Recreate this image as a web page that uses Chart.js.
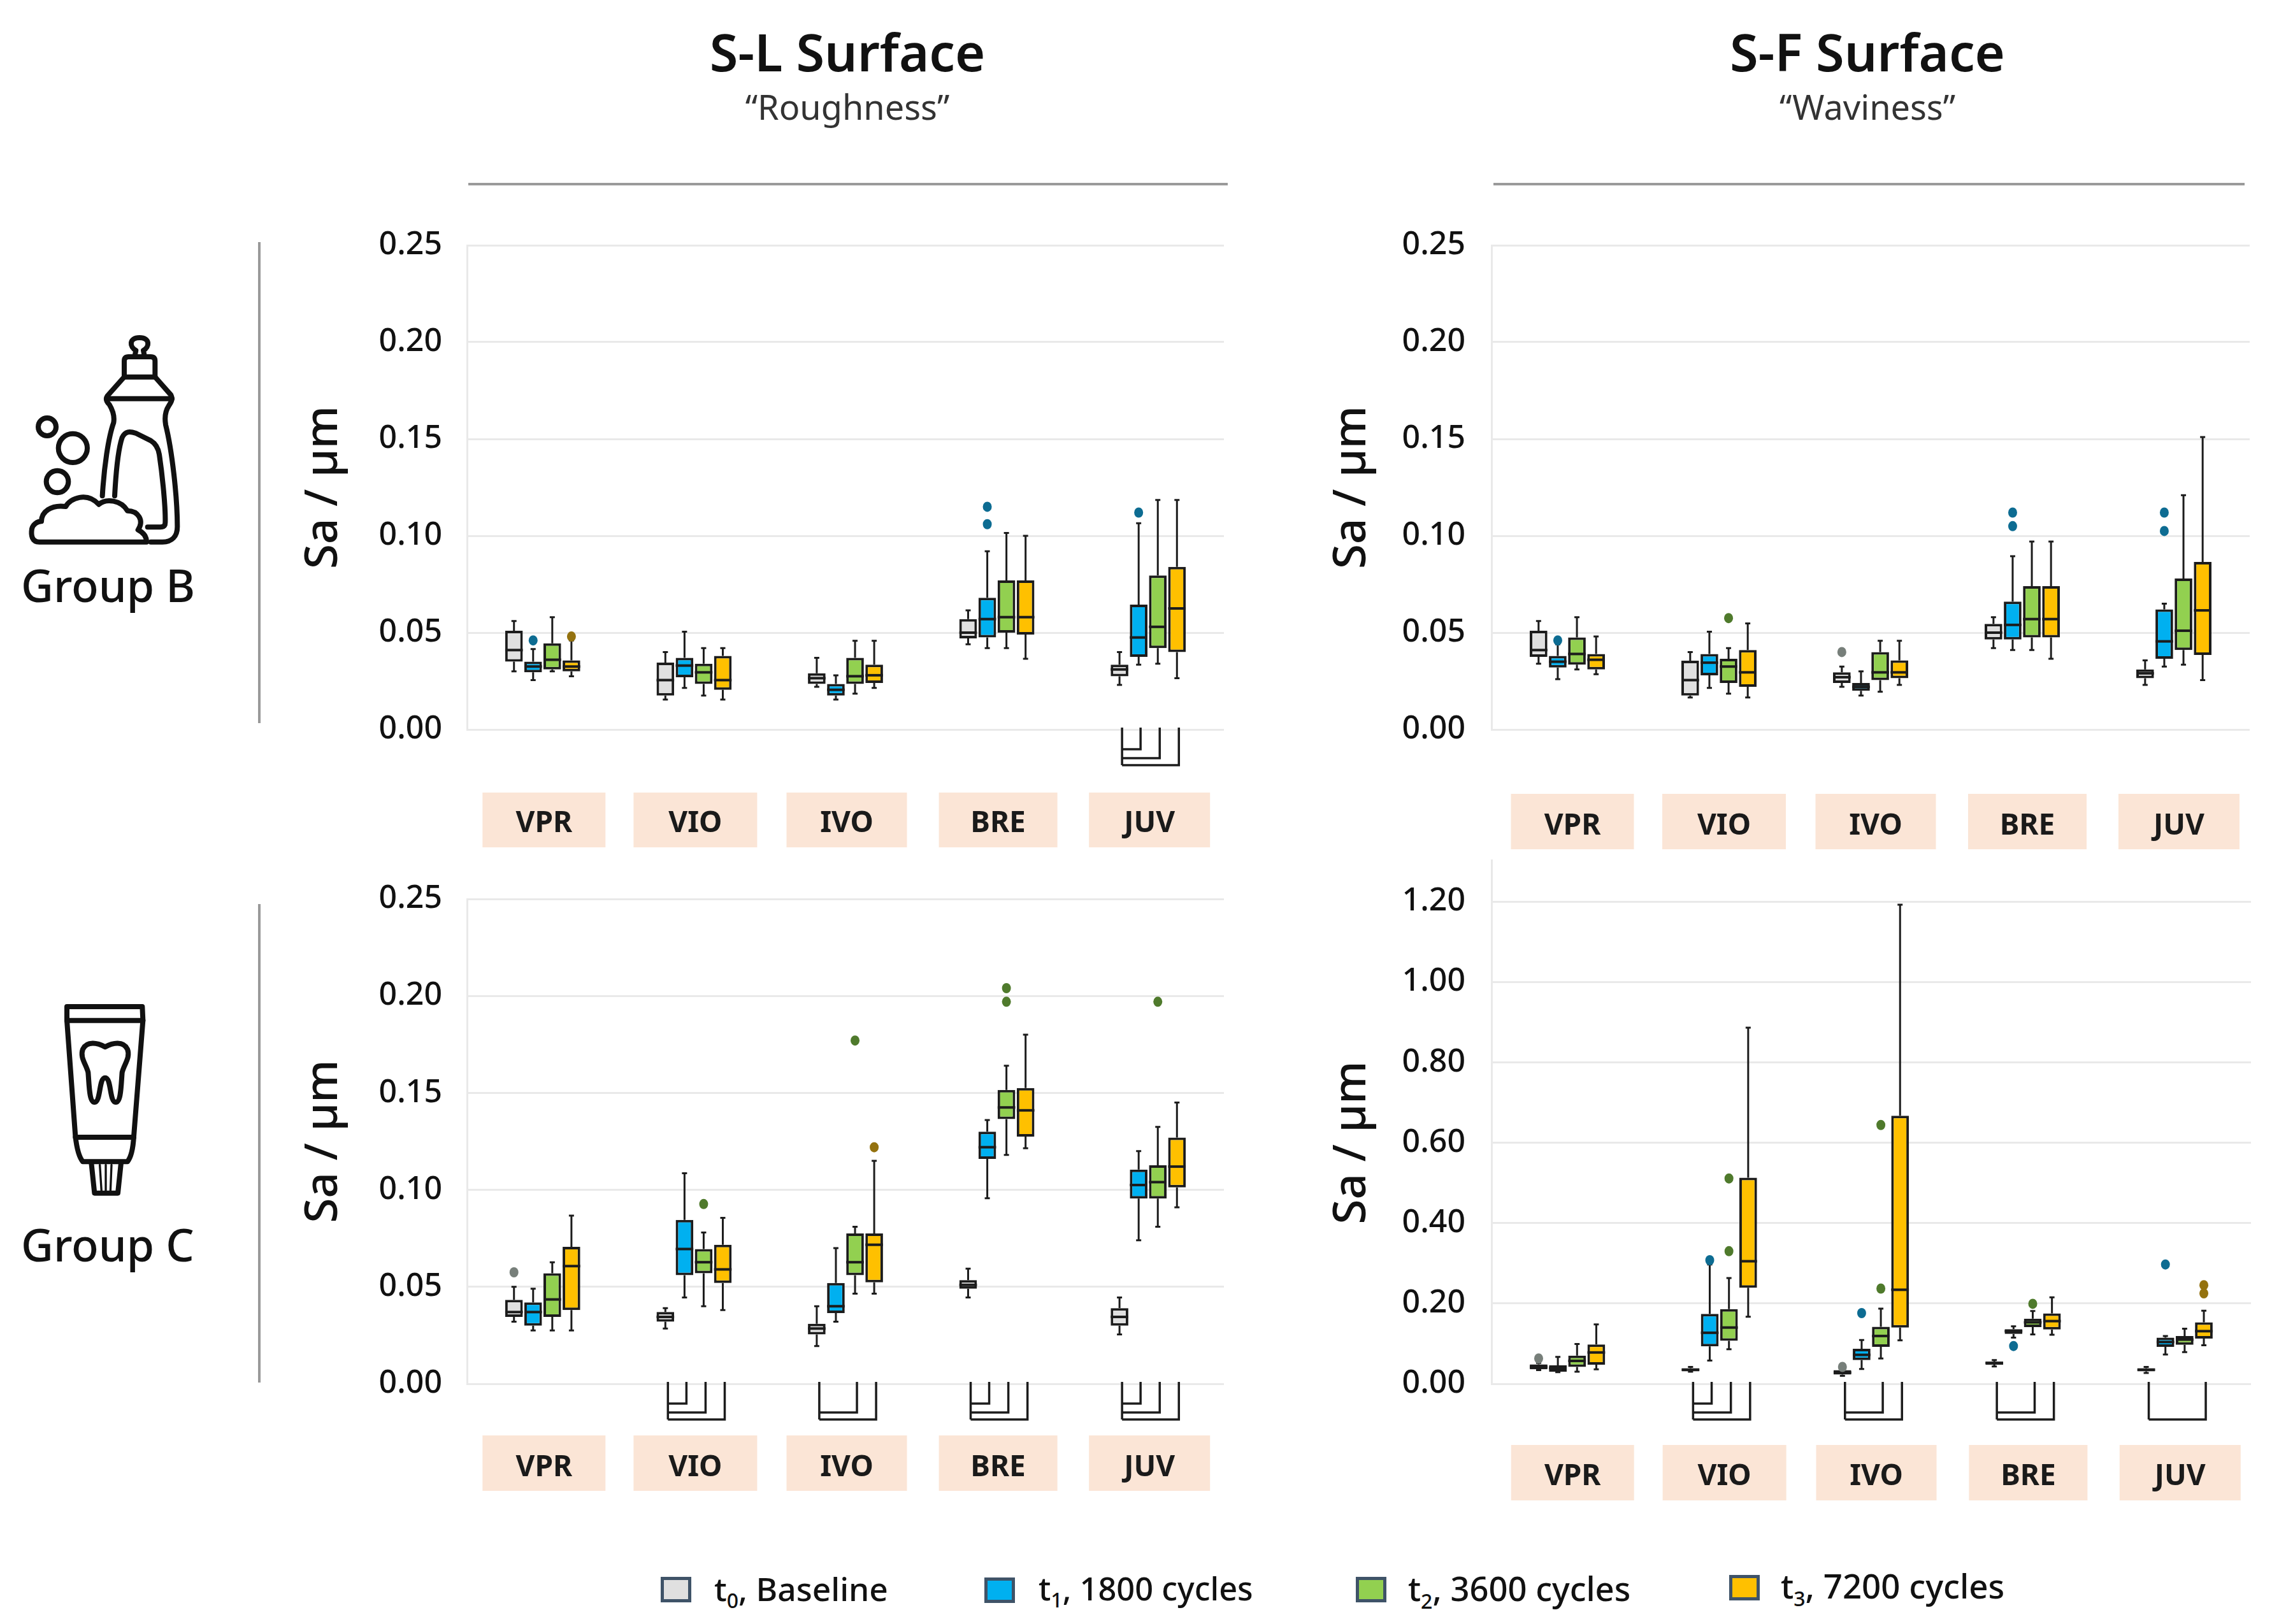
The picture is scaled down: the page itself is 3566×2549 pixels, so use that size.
<!DOCTYPE html>
<html>
<head>
<meta charset="utf-8">
<title>Sa by surface and group</title>
<script src="https://cdn.jsdelivr.net/npm/chart.js@4"></script>
<style>
    html, body { margin: 0; padding: 0; background: #fff; }
    #page { position: relative; width: 3566px; height: 2549px; overflow: hidden; font-family: "Noto Sans", sans-serif; color: #111; }
    #page canvas { position: absolute; }
    .txt { position: absolute; white-space: nowrap; line-height: 1; }
    .title { font-size: 81px; font-weight: 600; transform: translateX(-50%); }
    .sub { font-size: 54px; font-weight: 400; color: #333; transform: translateX(-50%); }
    .group { font-size: 70px; font-weight: 500; }
    .rule { position: absolute; background: #9a9a9a; }
    .swatch { position: absolute; box-sizing: border-box; border: 5px solid #3f5368; width: 48px; height: 40px; }
    .leg { font-size: 51.5px; font-weight: 500; }
    .leg sub { font-size: 32px; line-height: 0; }
    svg { position: absolute; fill: none; stroke: #111; stroke-linecap: round; stroke-linejoin: round; }
</style>
</head>
<body>
<div id="page">
    <div class="txt title" style="left:1330px;top:40px">S-L Surface</div>
    <div class="txt sub" style="left:1330px;top:140px">“Roughness”</div>
    <div class="txt title" style="left:2931px;top:40px">S-F Surface</div>
    <div class="txt sub" style="left:2931px;top:140px">“Waviness”</div>
    <div class="rule" style="left:735px;top:287px;width:1192px;height:4px"></div>
    <div class="rule" style="left:2344px;top:287px;width:1179px;height:4px"></div>
    <div class="rule" style="left:405px;top:380px;width:4px;height:755px"></div>
    <div class="rule" style="left:405px;top:1419px;width:4px;height:751px"></div>
    <div class="rule" style="left:2340px;top:1349px;width:3px;height:66px;background:#e8e8e8"></div>

    <svg style="left:0;top:480px" width="440" height="520" viewBox="0 0 1320 1560" stroke-width="24">
        <path d="M635 235 L640 210 C610 195 605 150 657 150 C709 150 704 195 675 210 L680 235"/>
        <path d="M585 335 L585 260 Q585 240 605 240 L710 240 Q730 240 730 260 L730 335 Z"/>
        <path d="M585 335 L505 425 C495 440 505 455 515 465 C530 490 540 520 535 550 C510 620 490 760 482 895"/>
        <path d="M730 335 L805 420 C815 440 805 455 795 470 C775 500 775 530 780 560 C810 680 835 900 835 1040 C835 1085 810 1112 765 1112 L710 1112"/>
        <path d="M505 437 L810 437"/>
        <path d="M540 895 C545 800 555 680 575 620 C590 590 610 590 640 600 L710 635 C735 650 745 670 750 700 C765 800 780 950 778 1020 C778 1035 770 1042 755 1042 L695 1042"/>
        <circle cx="222" cy="570" r="42"/>
        <circle cx="343" cy="670" r="68"/>
        <circle cx="270" cy="828" r="52"/>
        <path d="M690 1112 L185 1112 C150 1112 145 1080 150 1050 C155 1030 175 1015 195 1015 C195 970 240 935 310 945 C330 905 410 875 465 935 C500 905 570 915 600 965 C650 965 680 1010 650 1055 C680 1070 690 1090 690 1112"/>
    </svg>
    <div class="txt group" style="left:33px;top:883px">Group B</div>

    <svg style="left:40px;top:1520px" width="360" height="500" viewBox="0 0 1080 1500" stroke-width="24">
        <path d="M195 180 L550 180 L553 245 L510 790 Q505 880 480 910 L270 910 Q245 880 235 790 L195 245 Z"/>
        <path d="M195 245 L553 245"/>
        <path d="M235 795 L510 795"/>
        <path d="M310 915 L325 1058 L435 1058 L450 915"/>
        <path d="M350 925 L358 1050 M378 925 L378 1050 M405 925 L400 1050" stroke-width="10"/>
        <path d="M375 370 C340 350 290 340 270 380 C255 420 285 450 295 490 C300 550 300 630 325 630 C355 630 345 515 375 515 C405 515 395 630 425 630 C450 630 450 550 455 490 C465 450 495 420 480 380 C460 340 410 350 375 370 Z"/>
    </svg>
    <div class="txt group" style="left:33px;top:1918px">Group C</div>

    <div class="swatch" style="left:1037px;top:2475px;background:#e0e0e0"></div>
    <div class="txt leg" style="left:1121px;top:2468px">t<sub>0</sub>, Baseline</div>
    <div class="swatch" style="left:1545px;top:2476px;background:#00b0f0"></div>
    <div class="txt leg" style="left:1630px;top:2468px;font-size:50.5px">t<sub>1</sub>, 1800 cycles</div>
    <div class="swatch" style="left:2128px;top:2475px;background:#92d050"></div>
    <div class="txt leg" style="left:2210px;top:2467px;font-size:52.5px">t<sub>2</sub>, 3600 cycles</div>
    <div class="swatch" style="left:2714px;top:2472px;background:#ffc000"></div>
    <div class="txt leg" style="left:2795px;top:2463px;font-size:52.8px">t<sub>3</sub>, 7200 cycles</div>
</div>

<script>
const categories = ['VPR', 'VIO', 'IVO', 'BRE', 'JUV'];
const seriesNames = ['t0, Baseline', 't1, 1800 cycles', 't2, 3600 cycles', 't3, 7200 cycles'];
const fills = ['#e0e0e0', '#00b0f0', '#92d050', '#ffc000'];
const dotColors = ['#777f7a', '#0d6c92', '#4f7a2c', '#94720f'];

// every row: low whisker, q1, median, q3, high whisker, one row per material
const slBT0 = [[.030,.035,.041,.051,.056], [.0155,.0175,.0255,.0345,.040], [.022,.0235,.0265,.029,.037], [.044,.047,.050,.057,.0615], [.023,.0275,.031,.0335,.040]];
const slBT1 = [[.0255,.0295,.0325,.035,.0415], [.0215,.027,.033,.037,.0505], [.0155,.0175,.0205,.0235,.028], [.042,.0475,.057,.068,.092], [.0335,.0375,.0475,.0645,.1065]];
const slBT2 = [[.030,.031,.036,.0445,.058], [.0175,.0235,.0295,.034,.042], [.0185,.0235,.0275,.037,.0458], [.042,.050,.058,.077,.1015], [.034,.042,.053,.0795,.1185]];
const slBT3 = [[.0275,.030,.0325,.0357,.046], [.0155,.0205,.0255,.038,.042], [.0215,.024,.028,.0335,.0458], [.0365,.049,.058,.077,.100], [.0265,.040,.0625,.084,.1185]];
const slBOutliers = [[0,1,.046], [0,3,.048], [3,1,.115], [3,1,.106], [4,1,.112]];
const slBBrackets = [[], [], [], [], [1,2,3]];

const sfBT0 = [[.034,.0375,.041,.051,.056], [.0165,.0175,.0255,.0355,.040], [.022,.024,.027,.0295,.0325], [.042,.0465,.050,.0545,.058], [.023,.0265,.029,.031,.0357]];
const sfBT1 = [[.026,.032,.035,.038,.044], [.0215,.028,.0345,.039,.0505], [.0175,.020,.022,.024,.030], [.041,.0465,.054,.066,.0895], [.0325,.0365,.0455,.062,.065]];
const sfBT2 = [[.031,.0335,.039,.0475,.058], [.0185,.024,.0325,.0365,.042], [.0195,.0255,.0295,.040,.0458], [.041,.0475,.057,.074,.097], [.0335,.041,.051,.078,.121]];
const sfBT3 = [[.0285,.031,.036,.039,.048], [.0165,.022,.0295,.041,.0548], [.023,.0265,.0295,.0357,.0458], [.0365,.0475,.057,.074,.097], [.0255,.0385,.0615,.0865,.151]];
const sfBOutliers = [[0,1,.046], [1,2,.0575], [2,0,.040], [3,1,.112], [3,1,.105], [4,1,.112], [4,1,.1025]];
const sfBBrackets = [[], [], [], [], []];

const slCT0 = [[.032,.0345,.037,.0433,.050], [.0285,.032,.0345,.037,.039], [.0195,.0255,.0285,.031,.040], [.0445,.049,.051,.0535,.0594], [.0255,.030,.0345,.039,.0445]];
const slCT1 = [[.0275,.030,.037,.042,.049], [.0445,.056,.0695,.0845,.1086], [.032,.0365,.040,.052,.070], [.0957,.116,.122,.130,.136], [.074,.0955,.1025,.1105,.120]];
const slCT2 = [[.0275,.0345,.0435,.057,.0627], [.040,.057,.0627,.0695,.078], [.0465,.056,.0627,.0775,.081], [.118,.1365,.1425,.1515,.164], [.081,.0955,.104,.1127,.1325]];
const slCT3 = [[.0275,.038,.0607,.0706,.0867], [.038,.052,.059,.0717,.0856], [.0465,.0523,.0717,.0775,.115], [.1215,.1275,.141,.1525,.180], [.091,.1013,.112,.127,.145]];
const slCOutliers = [[0,0,.0575], [1,2,.0927], [2,2,.177], [2,3,.122], [3,2,.204], [3,2,.197], [4,2,.197]];
const slCBrackets = [[], [1,2,3], [2,3], [1,2,3], [1,2,3]];

const sfCT0 = [[.034,.036,.042,.0485,.052], [.030,.031,.035,.039,.042], [.020,.023,.028,.034,.039], [.043,.0475,.052,.055,.059], [.027,.031,.035,.039,.042]];
const sfCT1 = [[.029,.030,.039,.046,.067], [.058,.093,.127,.174,.297], [.037,.059,.072,.087,.109], [.115,.124,.131,.136,.143], [.073,.092,.104,.115,.119]];
const sfCT2 = [[.030,.042,.057,.070,.099], [.086,.107,.140,.186,.263], [.063,.092,.119,.142,.187], [.123,.141,.153,.162,.181], [.079,.097,.110,.119,.137]];
const sfCT3 = [[.036,.0475,.078,.098,.148], [.167,.239,.305,.513,.886], [.108,.140,.234,.667,1.192], [.122,.135,.156,.175,.215], [.096,.1125,.131,.153,.182]];
const sfCOutliers = [[0,0,.063], [1,1,.3075], [1,2,.511], [1,2,.330], [2,0,.042], [2,1,.176], [2,2,.644], [2,2,.237], [3,1,.094], [3,2,.199], [4,1,.297], [4,3,.2455], [4,3,.225]];
const sfCBrackets = [[], [1,2,3], [2,3], [2,3], [3]];

const bracketDepth = [0, 31, 45, 56];
const boxWidths = [193, 194, 189, 186, 190];

const panels = [
    { id: 'slB', series: [slBT0, slBT1, slBT2, slBT3], outliers: slBOutliers, brackets: slBBrackets, left: 733, right: 1921, top: 385, bottom: 1145, max: 0.25, step: 0.05, boxTop: 99, boxH: 86, boxShift: 2, labelPad: 112, titlePad: 3, tickPad: 39 },
    { id: 'sfB', series: [sfBT0, sfBT1, sfBT2, sfBT3], outliers: sfBOutliers, brackets: sfBBrackets, left: 2341, right: 3531, top: 385, bottom: 1145, max: 0.25, step: 0.05, boxTop: 101, boxH: 87, boxShift: 8, labelPad: 116, titlePad: 9, tickPad: 41 },
    { id: 'slC', series: [slCT0, slCT1, slCT2, slCT3], outliers: slCOutliers, brackets: slCBrackets, left: 733, right: 1921, top: 1411, bottom: 2172, max: 0.25, step: 0.05, boxTop: 81, boxH: 87, boxShift: 2, labelPad: 96, titlePad: 3, tickPad: 39 },
    { id: 'sfC', series: [sfCT0, sfCT1, sfCT2, sfCT3], outliers: sfCOutliers, brackets: sfCBrackets, left: 2341, right: 3533, top: 1415, bottom: 2172, max: 1.2, step: 0.2, boxTop: 96, boxH: 87, boxShift: 8, labelPad: 110, titlePad: 9, tickPad: 41 }
];

// peach label boxes go under everything, the rest of the box plot on top of the bars
const boxPlotPlugin = {
    id: 'boxPlot',
    beforeDraw(chart, args, opts) {
        const ctx = chart.ctx;
        const xs = chart.scales.x;
        ctx.save();
        ctx.fillStyle = '#fbe5d6';
        categories.forEach((c, i) => {
            const w = boxWidths[i];
            ctx.fillRect(xs.getPixelForValue(i) + opts.panel.boxShift - w / 2, chart.chartArea.bottom + opts.panel.boxTop, w, opts.panel.boxH);
        });
        ctx.restore();
    },
    afterDatasetsDraw(chart, args, opts) {
        const ctx = chart.ctx;
        const ys = chart.scales.y;
        const panel = opts.panel;
        ctx.save();
        ctx.strokeStyle = '#1c1c1c';
        panel.series.forEach((rows, t) => {
            const bars = chart.getDatasetMeta(t).data;
            rows.forEach((r, i) => {
                const x = bars[i].x;
                const half = bars[i].width / 2;
                ctx.lineWidth = 3;
                ctx.beginPath();
                ctx.moveTo(x, ys.getPixelForValue(r[1]));
                ctx.lineTo(x, ys.getPixelForValue(r[0]));
                ctx.moveTo(x, ys.getPixelForValue(r[3]));
                ctx.lineTo(x, ys.getPixelForValue(r[4]));
                ctx.moveTo(x - 4, ys.getPixelForValue(r[0]));
                ctx.lineTo(x + 4, ys.getPixelForValue(r[0]));
                ctx.moveTo(x - 4, ys.getPixelForValue(r[4]));
                ctx.lineTo(x + 4, ys.getPixelForValue(r[4]));
                ctx.stroke();
                ctx.lineWidth = 4;
                ctx.beginPath();
                ctx.moveTo(x - half, ys.getPixelForValue(r[2]));
                ctx.lineTo(x + half, ys.getPixelForValue(r[2]));
                ctx.stroke();
            });
        });
        panel.outliers.forEach(o => {
            const bar = chart.getDatasetMeta(o[1]).data[o[0]];
            ctx.fillStyle = dotColors[o[1]];
            ctx.beginPath();
            ctx.ellipse(bar.x, ys.getPixelForValue(o[2]), 7, 8, 0, 0, Math.PI * 2);
            ctx.fill();
        });
        // significance brackets under the axis
        const base = chart.chartArea.bottom - 3;
        ctx.lineWidth = 3.5;
        panel.brackets.forEach((list, i) => {
            if (!list.length) return;
            const x0 = chart.getDatasetMeta(0).data[i].x + 4;
            ctx.beginPath();
            ctx.moveTo(x0, base);
            ctx.lineTo(x0, base + bracketDepth[list[list.length - 1]] + 3);
            list.forEach(t => {
                const x1 = chart.getDatasetMeta(t).data[i].x + 3;
                const y = base + bracketDepth[t] + 3;
                ctx.moveTo(x0, y);
                ctx.lineTo(x1, y);
                ctx.lineTo(x1, base);
            });
            ctx.stroke();
        });
        ctx.restore();
    }
};

function drawPanel(panel) {
    const canvas = document.createElement('canvas');
    const canvasLeft = panel.left - 270;
    const canvasTop = panel.top - 30;
    canvas.width = panel.right - panel.left + 280;
    canvas.height = panel.bottom - panel.top + 240;
    canvas.style.left = canvasLeft + 'px';
    canvas.style.top = canvasTop + 'px';
    document.getElementById('page').appendChild(canvas);

    new Chart(canvas.getContext('2d'), {
        type: 'bar',
        data: {
            labels: categories,
            datasets: panel.series.map((rows, t) => ({
                label: seriesNames[t],
                data: rows.map(r => [r[1], r[3]]),
                backgroundColor: fills[t],
                borderColor: '#1c1c1c',
                borderWidth: 4,
                borderSkipped: false,
                categoryPercentage: 0.506,
                barPercentage: 0.92
            }))
        },
        plugins: [boxPlotPlugin],
        options: {
            responsive: false,
            animation: false,
            devicePixelRatio: 1,
            layout: { autoPadding: false, padding: { top: 30, right: 10, left: 0, bottom: 0 } },
            plugins: {
                legend: { display: false },
                tooltip: { enabled: false },
                boxPlot: { panel: panel }
            },
            scales: {
                x: {
                    grid: { display: false },
                    border: { display: false },
                    ticks: {
                        padding: panel.labelPad,
                        labelOffset: panel.boxShift,
                        color: '#1a1a1a',
                        maxRotation: 0,
                        font: { family: 'Noto Sans', size: 46, weight: 'bold' }
                    },
                    afterFit(scale) {
                        // the plot box has to land on the panel's exact pixels
                        scale.height = 210;
                        scale.paddingLeft = 0;
                        scale.paddingRight = 0;
                    }
                },
                y: {
                    min: 0,
                    max: panel.max,
                    grid: { color: '#e9e9e9', lineWidth: 3, drawTicks: false },
                    border: { color: '#e9e9e9', width: 3 },
                    ticks: {
                        stepSize: panel.step,
                        padding: panel.tickPad,
                        color: '#111',
                        font: { family: 'Noto Sans', size: 50, weight: '500' },
                        callback: v => v.toFixed(2)
                    },
                    title: {
                        display: true,
                        text: 'Sa / µm',
                        color: '#111',
                        padding: { top: panel.titlePad, bottom: 0 },
                        font: { family: 'Noto Sans', size: 71, weight: '500' }
                    },
                    afterFit(scale) {
                        scale.width = 270;
                        scale.paddingTop = 0;
                        scale.paddingBottom = 0;
                    }
                }
            }
        }
    });
}

panels.forEach(drawPanel);
</script>
</body>
</html>
